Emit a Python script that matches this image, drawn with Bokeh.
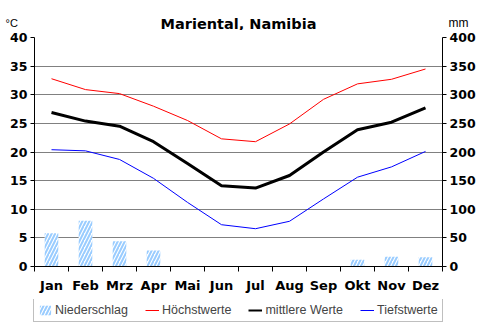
from bokeh.plotting import figure
from bokeh.layouts import column
from bokeh.models import (Range1d, LinearAxis, FixedTicker, Legend, LegendItem,
                          ColumnDataSource)
from bokeh.core.properties import value
from bokeh.embed import file_html
from bokeh.resources import INLINE

months = ["Jan", "Feb", "Mrz", "Apr", "Mai", "Jun", "Jul", "Aug", "Sep", "Okt", "Nov", "Dez"]
high = [32.8, 30.9, 30.2, 28.0, 25.5, 22.3, 21.8, 24.9, 29.2, 31.9, 32.7, 34.5]
mean = [26.9, 25.4, 24.5, 21.8, 18.0, 14.1, 13.7, 15.9, 20.0, 23.9, 25.2, 27.7]
low = [20.4, 20.2, 18.7, 15.4, 11.2, 7.3, 6.6, 7.9, 11.8, 15.6, 17.4, 20.1]
precip = [58, 80, 44, 28, 1, 1, 0, 0, 1, 12, 17, 16]
temp_ticks = [0, 5, 10, 15, 20, 25, 30, 35, 40]
mm_ticks = [0, 50, 100, 150, 200, 250, 300, 350, 400]
series_names = ["Niederschlag", "Höchstwerte", "mittlere Werte", "Tiefstwerte"]
title_text = "Mariental, Namibia"
left_unit = "°C"
right_unit = "mm"

FONT = "DejaVu Sans"
W = 482
HH = 30      # header height
MH = 269     # main chart height
FH = 329 - HH - MH  # footer height

BAR_STYLE = dict(fill_color="white", line_color=None, hatch_pattern="/",
                 hatch_color="#99CCFF", hatch_weight=2, hatch_scale=7)
HIGH_STYLE = dict(line_color="#FF0000", line_width=1)
MEAN_STYLE = dict(line_color="black", line_width=3)
LOW_STYLE = dict(line_color="#0000FF", line_width=1)


def bare(fig):
    fig.outline_line_color = None
    fig.xgrid.grid_line_color = None
    fig.ygrid.grid_line_color = None
    fig.frame_align = False


# ---- header with title and units ----
header = figure(width=W, height=HH, output_backend="svg", toolbar_location=None,
                x_range=Range1d(0, W), y_range=Range1d(HH, 0),
                x_axis_type=None, y_axis_type=None, min_border=0)
bare(header)
header.text(x=[238], y=[23], text=[title_text], text_align="center",
            text_baseline="alphabetic", text_font=value(FONT), text_font_style="bold",
            text_font_size="14.5px", text_color="black")
header.text(x=[5], y=[22], text=[left_unit], text_align="left",
            text_baseline="alphabetic", text_font=value("Liberation Sans"),
            text_font_size="11px", text_color="black")
header.text(x=[468], y=[22], text=[right_unit], text_align="right",
            text_baseline="alphabetic", text_font=value("Liberation Sans"),
            text_font_size="12px", text_color="black")

# ---- main chart ----
xc = [i + 0.5 for i in range(len(months))]
src = ColumnDataSource(dict(x=xc, high=high, mean=mean, low=low, precip=precip))

p = figure(width=W, height=MH, output_backend="svg", toolbar_location=None,
           x_range=Range1d(0, 12), y_range=Range1d(0, 40),
           min_border_left=34, min_border_right=40, min_border_top=7,
           min_border_bottom=MH - 7 - 229)
p.extra_y_ranges = {"mm": Range1d(0, 400)}
p.outline_line_color = None
p.frame_align = False

xa = p.xaxis[0]
xa.ticker = FixedTicker(ticks=xc, minor_ticks=list(range(13)))
xa.major_label_overrides = {x: m for x, m in zip(xc, months)}
xa.major_tick_out = 0
xa.major_tick_in = 0
xa.minor_tick_out = 5
xa.minor_tick_in = 0
xa.minor_tick_line_color = "black"
xa.axis_line_color = "black"
xa.major_label_standoff = 6
xa.major_label_text_font = FONT
xa.major_label_text_font_style = "bold"
xa.major_label_text_font_size = "13px"
xa.major_label_text_color = "black"

ya = p.yaxis[0]
ya.ticker = FixedTicker(ticks=temp_ticks)
ya.minor_tick_line_color = None
ya.major_tick_out = 4
ya.major_tick_in = 0
ya.major_label_standoff = 3
ya.axis_line_color = "black"
ya.major_label_text_font = FONT
ya.major_label_text_font_style = "bold"
ya.major_label_text_font_size = "12.5px"
ya.major_label_text_color = "black"

ra = LinearAxis(y_range_name="mm", ticker=FixedTicker(ticks=mm_ticks))
ra.minor_tick_line_color = None
ra.major_tick_out = 4
ra.major_tick_in = 0
ra.major_label_standoff = 3
ra.axis_line_color = "black"
ra.major_label_text_font = FONT
ra.major_label_text_font_style = "bold"
ra.major_label_text_font_size = "12.5px"
ra.major_label_text_color = "black"
p.add_layout(ra, "right")

p.xgrid.grid_line_color = None
p.ygrid.grid_line_color = "#808080"
p.ygrid.grid_line_width = 1

p.vbar(x="x", top="precip", width=0.4, source=src, y_range_name="mm", **BAR_STYLE)
p.line("x", "high", source=src, **HIGH_STYLE)
p.line("x", "mean", source=src, **MEAN_STYLE)
p.line("x", "low", source=src, **LOW_STYLE)

# ---- footer with legend (its renderers are hidden; only legend swatches show) ----
footer = figure(width=W, height=FH, output_backend="svg", toolbar_location=None,
                x_range=Range1d(0, 1), y_range=Range1d(0, 1),
                x_axis_type=None, y_axis_type=None, min_border=0)
bare(footer)
lb = footer.vbar(x="x", top="precip", width=0.4, source=src, visible=False, **BAR_STYLE)
lh = footer.line("x", "high", source=src, visible=False, **HIGH_STYLE)
lm = footer.line("x", "mean", source=src, visible=False, line_color="black", line_width=2)
ll = footer.line("x", "low", source=src, visible=False, **LOW_STYLE)

legend = Legend(items=[LegendItem(label=n, renderers=[r])
                       for n, r in zip(series_names, [lb, lh, lm, ll])],
                location=(33, 7), orientation="horizontal",
                border_line_color="#808080", border_line_width=1,
                label_text_font="Liberation Sans", label_text_font_size="12.5px",
                glyph_width=14, glyph_height=12, label_standoff=3, spacing=17,
                padding=4, margin=0, inactive_fill_alpha=0)
footer.add_layout(legend)

layout = column(header, p, footer, spacing=0)
open("out.html", "w").write(file_html(layout, INLINE))
